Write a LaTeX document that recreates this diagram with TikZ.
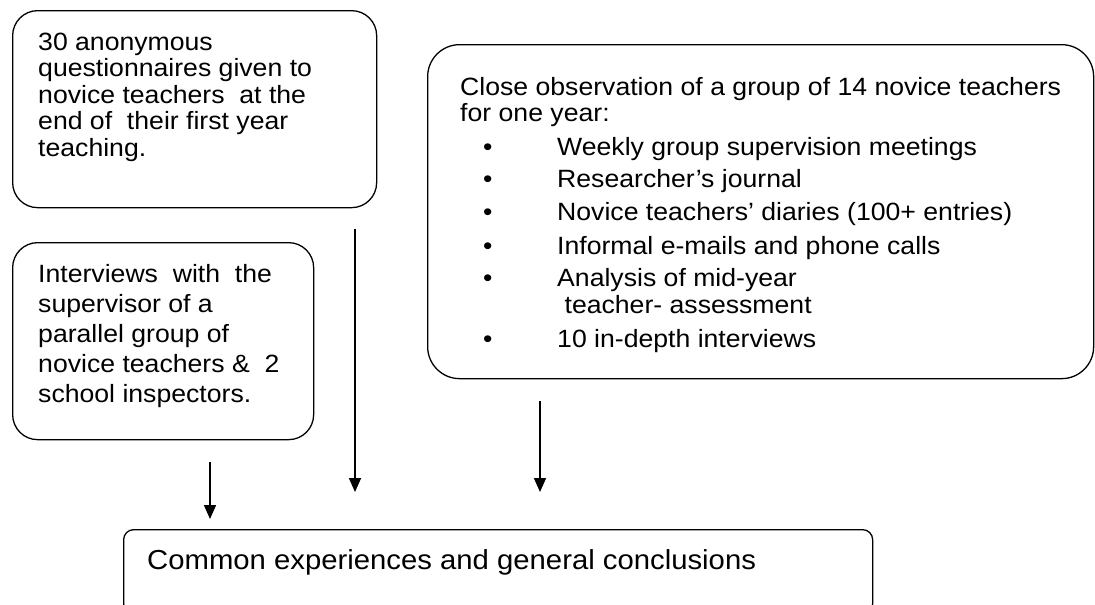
\documentclass[tikz,border=0pt]{standalone}
\usepackage{fontspec}
\setmainfont{Liberation Sans}
\newfontfamily\bodyfont{Liberation Sans}[FakeStretch=1.065]
\usetikzlibrary{arrows.meta}
\begin{document}
\begin{tikzpicture}[x=1pt,y=-1pt,
  box/.style={draw=black, line width=1.3pt, inner sep=0pt, anchor=north west, fill=none},
  txt/.style={inner sep=0pt, anchor=base west, font=\bodyfont\fontsize{25}{27}\selectfont},
  big/.style={txt, font=\bodyfont\fontsize{27.5}{30}\selectfont},
  arr/.style={line width=1.5pt, -{Triangle[length=14pt,width=12pt]}}]
\useasboundingbox (0,0) rectangle (1095,605);
% boxes
\node[box, rounded corners=25pt, minimum width=364pt, minimum height=197pt] (A) at (12,10) {};
\node[box, rounded corners=25pt, minimum width=301pt, minimum height=197pt] (B) at (12,242) {};
\node[box, rounded corners=32pt, minimum width=666pt, minimum height=334pt] (C) at (427,44) {};
\node[box, rounded corners=10pt, minimum width=749pt, minimum height=84pt] (D) at (123,529) {};
% texts of A
\node[txt] (a1) at (38,50) {30 anonymous};
\node[txt] (a2) at (38,76.5) {questionnaires given to};
\node[txt] (a3) at (38,103) {novice teachers\ \ at the};
\node[txt] (a4) at (38,129.5) {end of\ \ their first year};
\node[txt] (a5) at (38,156) {teaching.};
% texts of B
\node[txt] (b1) at (38,282) {Interviews\ \ with\ \ the};
\node[txt] (b2) at (38,312) {supervisor of a};
\node[txt] (b3) at (38,342) {parallel group of};
\node[txt] (b4) at (38,372) {novice teachers \&\ \ 2};
\node[txt] (b5) at (38,402) {school inspectors.};
% texts of C
\node[txt] (c0) at (460,95) {Close observation of a group of 14 novice teachers};
\node[txt] (c00) at (460,121) {for one year:};
\node[txt] (c1) at (483,155) {\makebox[74pt][l]{\textbullet}Weekly group supervision meetings};
\node[txt] (c2) at (483,187) {\makebox[74pt][l]{\textbullet}Researcher’s journal};
\node[txt] (c3) at (483,220) {\makebox[74pt][l]{\textbullet}Novice teachers’ diaries (100+ entries)};
\node[txt] (c4) at (483,254) {\makebox[74pt][l]{\textbullet}Informal e-mails and phone calls};
\node[txt] (c5) at (483,286) {\makebox[74pt][l]{\textbullet}Analysis of mid-year};
\node[txt] (c5b) at (557,313) {\ teacher- assessment};
\node[txt] (c6) at (483,347) {\makebox[74pt][l]{\textbullet}10 in-depth interviews};
% text of D
\node[big] (td) at (147,569) {Common experiences and general conclusions};
% arrows
\coordinate (x1) at (210,0);
\coordinate (x2) at (355,0);
\coordinate (x3) at (540,0);
\draw[arr, shorten <=22pt, shorten >=10pt] (B.south -| x1) -- (D.north -| x1);
\draw[arr, shorten <=21pt, shorten >=37pt] (A.south -| x2) -- (D.north -| x2);
\draw[arr, shorten <=22pt, shorten >=37pt] (C.south -| x3) -- (D.north -| x3);
\end{tikzpicture}
\end{document}
